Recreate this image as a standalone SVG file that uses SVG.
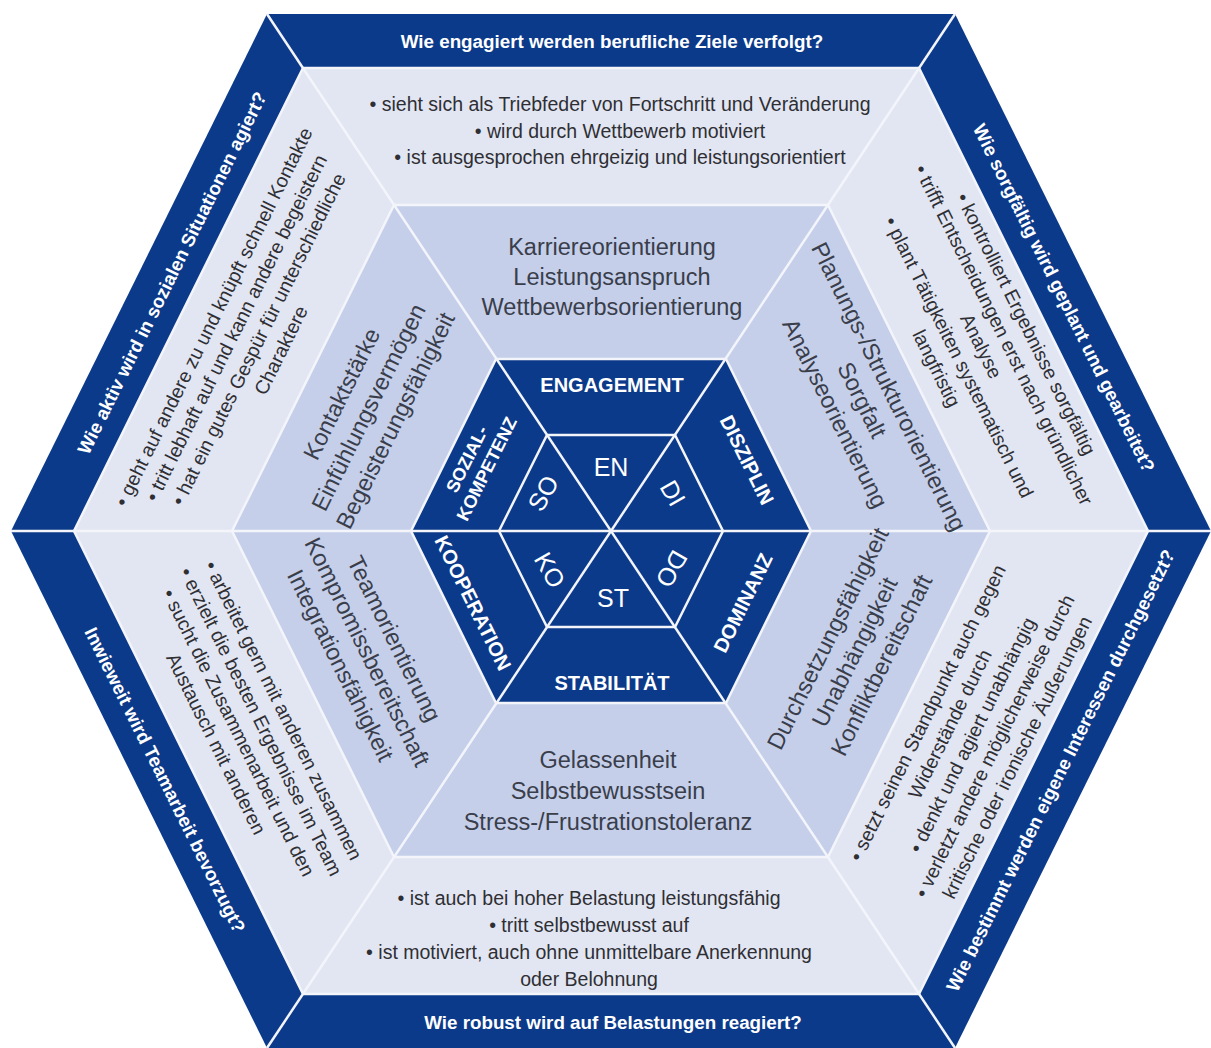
<svg xmlns="http://www.w3.org/2000/svg" width="1211" height="1048" viewBox="0 0 1211 1048">
<style>
.dark{fill:#0c3a8a}
.light{fill:#e2e6f3}
.mid{fill:#c5cfea}
.sep{stroke:#f3f5fb;stroke-width:2.5;fill:none}
text{font-family:"Liberation Sans",Arial,sans-serif;text-anchor:middle;dominant-baseline:central}
.hdr{font-weight:bold;font-size:18.8px;fill:#ffffff}
.bul{font-size:19.5px;fill:#2f2f33}
.kw{font-size:23.5px;fill:#3a3e4b}
.cap{font-weight:bold;font-size:20px;fill:#ffffff}
.cap2{font-weight:bold;font-size:18px;fill:#ffffff}
.abbr{font-size:25px;fill:#ffffff}
</style>
<rect width="1211" height="1048" fill="#ffffff"/>
<g id="hexagons">
<polygon class="dark" points="267,14 955,14 1211,531 955,1048 267,1048 11,531"/>
<polygon class="light" points="303,68 919,68 1148,531 919,994 303,994 74,531"/>
<polygon class="mid" points="394,205 828,205 990,531 828,857 394,857 232,531"/>
<polygon class="dark" points="496,359 726,359 811,531 726,703 496,703 411,531"/>
</g>
<g id="connectors">
<polygon class="sep" points="303,68 919,68 1148,531 919,994 303,994 74,531"/>
<polygon class="sep" points="394,205 828,205 990,531 828,857 394,857 232,531"/>
<polygon class="sep" points="496,359 726,359 811,531 726,703 496,703 411,531"/>
<polygon class="sep" points="547,435 675,435 723,531 675,627 547,627 499,531"/>
<line class="sep" x1="267" y1="14" x2="955" y2="1048"/>
<line class="sep" x1="955" y1="14" x2="267" y2="1048"/>
<line class="sep" x1="11" y1="531" x2="1211" y2="531"/>
</g>
<g id="engagement">
<text class="hdr" x="612" y="41">Wie engagiert werden berufliche Ziele verfolgt?</text>
<text class="bul"><tspan x="620" y="104">• sieht sich als Triebfeder von Fortschritt und Veränderung</tspan><tspan x="620" y="130.5">• wird durch Wettbewerb motiviert</tspan><tspan x="620" y="157">• ist ausgesprochen ehrgeizig und leistungsorientiert</tspan></text>
<text class="kw"><tspan x="612" y="247">Karriereorientierung</tspan><tspan x="612" y="277">Leistungsanspruch</tspan><tspan x="612" y="307">Wettbewerbsorientierung</tspan></text>
<text class="cap" x="612" y="385">ENGAGEMENT</text>
<text class="abbr" x="611" y="467">EN</text>
</g>
<g id="disziplin">
<text class="hdr" transform="translate(1064,298) rotate(63.6)">Wie sorgfältig wird geplant und gearbeitet?</text>
<text class="bul" transform="translate(981.5,346) rotate(63.6)"><tspan x="0" y="-50">• kontrolliert Ergebnisse sorgfältig</tspan><tspan x="0" y="-25">• trifft Entscheidungen erst nach gründlicher</tspan><tspan x="0" y="0">Analyse</tspan><tspan x="0" y="25">• plant Tätigkeiten systematisch und</tspan><tspan x="0" y="50">langfristig</tspan></text>
<text class="kw" transform="translate(862,400) rotate(63.6)"><tspan x="0" y="-30">Planungs-/Strukturorientierung</tspan><tspan x="0" y="0">Sorgfalt</tspan><tspan x="0" y="30">Analyseorientierung</tspan></text>
<text class="cap" transform="translate(747,460) rotate(63.6)">DISZIPLIN</text>
<text class="abbr" transform="translate(673,493) rotate(60)">DI</text>
</g>
<g id="dominanz">
<text class="hdr" transform="translate(1060.5,770.5) rotate(-63.6)">Wie bestimmt werden eigene Interessen durchgesetzt?</text>
<text class="bul" transform="translate(972,735) rotate(-63.6)"><tspan x="0" y="-50">• setzt seinen Standpunkt auch gegen</tspan><tspan x="0" y="-25">Widerstände durch</tspan><tspan x="0" y="0">• denkt und agiert unabhängig</tspan><tspan x="0" y="25">• verletzt andere möglicherweise durch</tspan><tspan x="0" y="50">kritische oder ironische Äußerungen</tspan></text>
<text class="kw" transform="translate(854.7,652) rotate(-63.6)"><tspan x="0" y="-30">Durchsetzungsfähigkeit</tspan><tspan x="0" y="0">Unabhängigkeit</tspan><tspan x="0" y="30">Konfliktbereitschaft</tspan></text>
<text class="cap" transform="translate(743,603) rotate(-63.6)">DOMINANZ</text>
<text class="abbr" transform="translate(672,569) rotate(120)">DO</text>
</g>
<g id="stabilitaet">
<text class="hdr" x="613" y="1022">Wie robust wird auf Belastungen reagiert?</text>
<text class="bul"><tspan x="589" y="898">• ist auch bei hoher Belastung leistungsfähig</tspan><tspan x="589" y="925">• tritt selbstbewusst auf</tspan><tspan x="589" y="952">• ist motiviert, auch ohne unmittelbare Anerkennung</tspan><tspan x="589" y="979">oder Belohnung</tspan></text>
<text class="kw"><tspan x="608" y="760">Gelassenheit</tspan><tspan x="608" y="791">Selbstbewusstsein</tspan><tspan x="608" y="822">Stress-/Frustrationstoleranz</tspan></text>
<text class="cap" x="612" y="683">STABILITÄT</text>
<text class="abbr" x="613" y="598">ST</text>
</g>
<g id="kooperation">
<text class="hdr" transform="translate(165,780) rotate(63.6)">Inwieweit wird Teamarbeit bevorzugt?</text>
<text class="bul" transform="translate(250,727) rotate(63.6)"><tspan x="0" y="-37.5">• arbeitet gern mit anderen zusammen</tspan><tspan x="0" y="-12.5">• erzielt die besten Ergebnisse im Team</tspan><tspan x="0" y="12.5">• sucht die Zusammenarbeit und den</tspan><tspan x="0" y="37.5">Austausch mit anderen</tspan></text>
<text class="kw" transform="translate(367.3,652) rotate(63.6)"><tspan x="0" y="-30">Teamorientierung</tspan><tspan x="0" y="0">Kompromissbereitschaft</tspan><tspan x="0" y="30">Integrationsfähigkeit</tspan></text>
<text class="cap" transform="translate(473,603) rotate(63.6)">KOOPERATION</text>
<text class="abbr" transform="translate(550,570) rotate(60)">KO</text>
</g>
<g id="sozialkompetenz">
<text class="hdr" transform="translate(172,273) rotate(-63.6)">Wie aktiv wird in sozialen Situationen agiert?</text>
<text class="bul" transform="translate(247,333.5) rotate(-63.6)"><tspan x="0" y="-37.5">• geht auf andere zu und knüpft schnell Kontakte</tspan><tspan x="0" y="-12.5">• tritt lebhaft auf und kann andere begeistern</tspan><tspan x="0" y="12.5">• hat ein gutes Gespür für unterschiedliche</tspan><tspan x="0" y="37.5">Charaktere</tspan></text>
<text class="kw" transform="translate(368.6,407.3) rotate(-63.6)"><tspan x="0" y="-30">Kontaktstärke</tspan><tspan x="0" y="0">Einfühlungsvermögen</tspan><tspan x="0" y="30">Begeisterungsfähigkeit</tspan></text>
<text class="cap2" transform="translate(477,464) rotate(-63.6)"><tspan x="0" y="-11">SOZIAL-</tspan><tspan x="0" y="11">KOMPETENZ</tspan></text>
<text class="abbr" transform="translate(543,493) rotate(-60)">SO</text>
</g>
</svg>
